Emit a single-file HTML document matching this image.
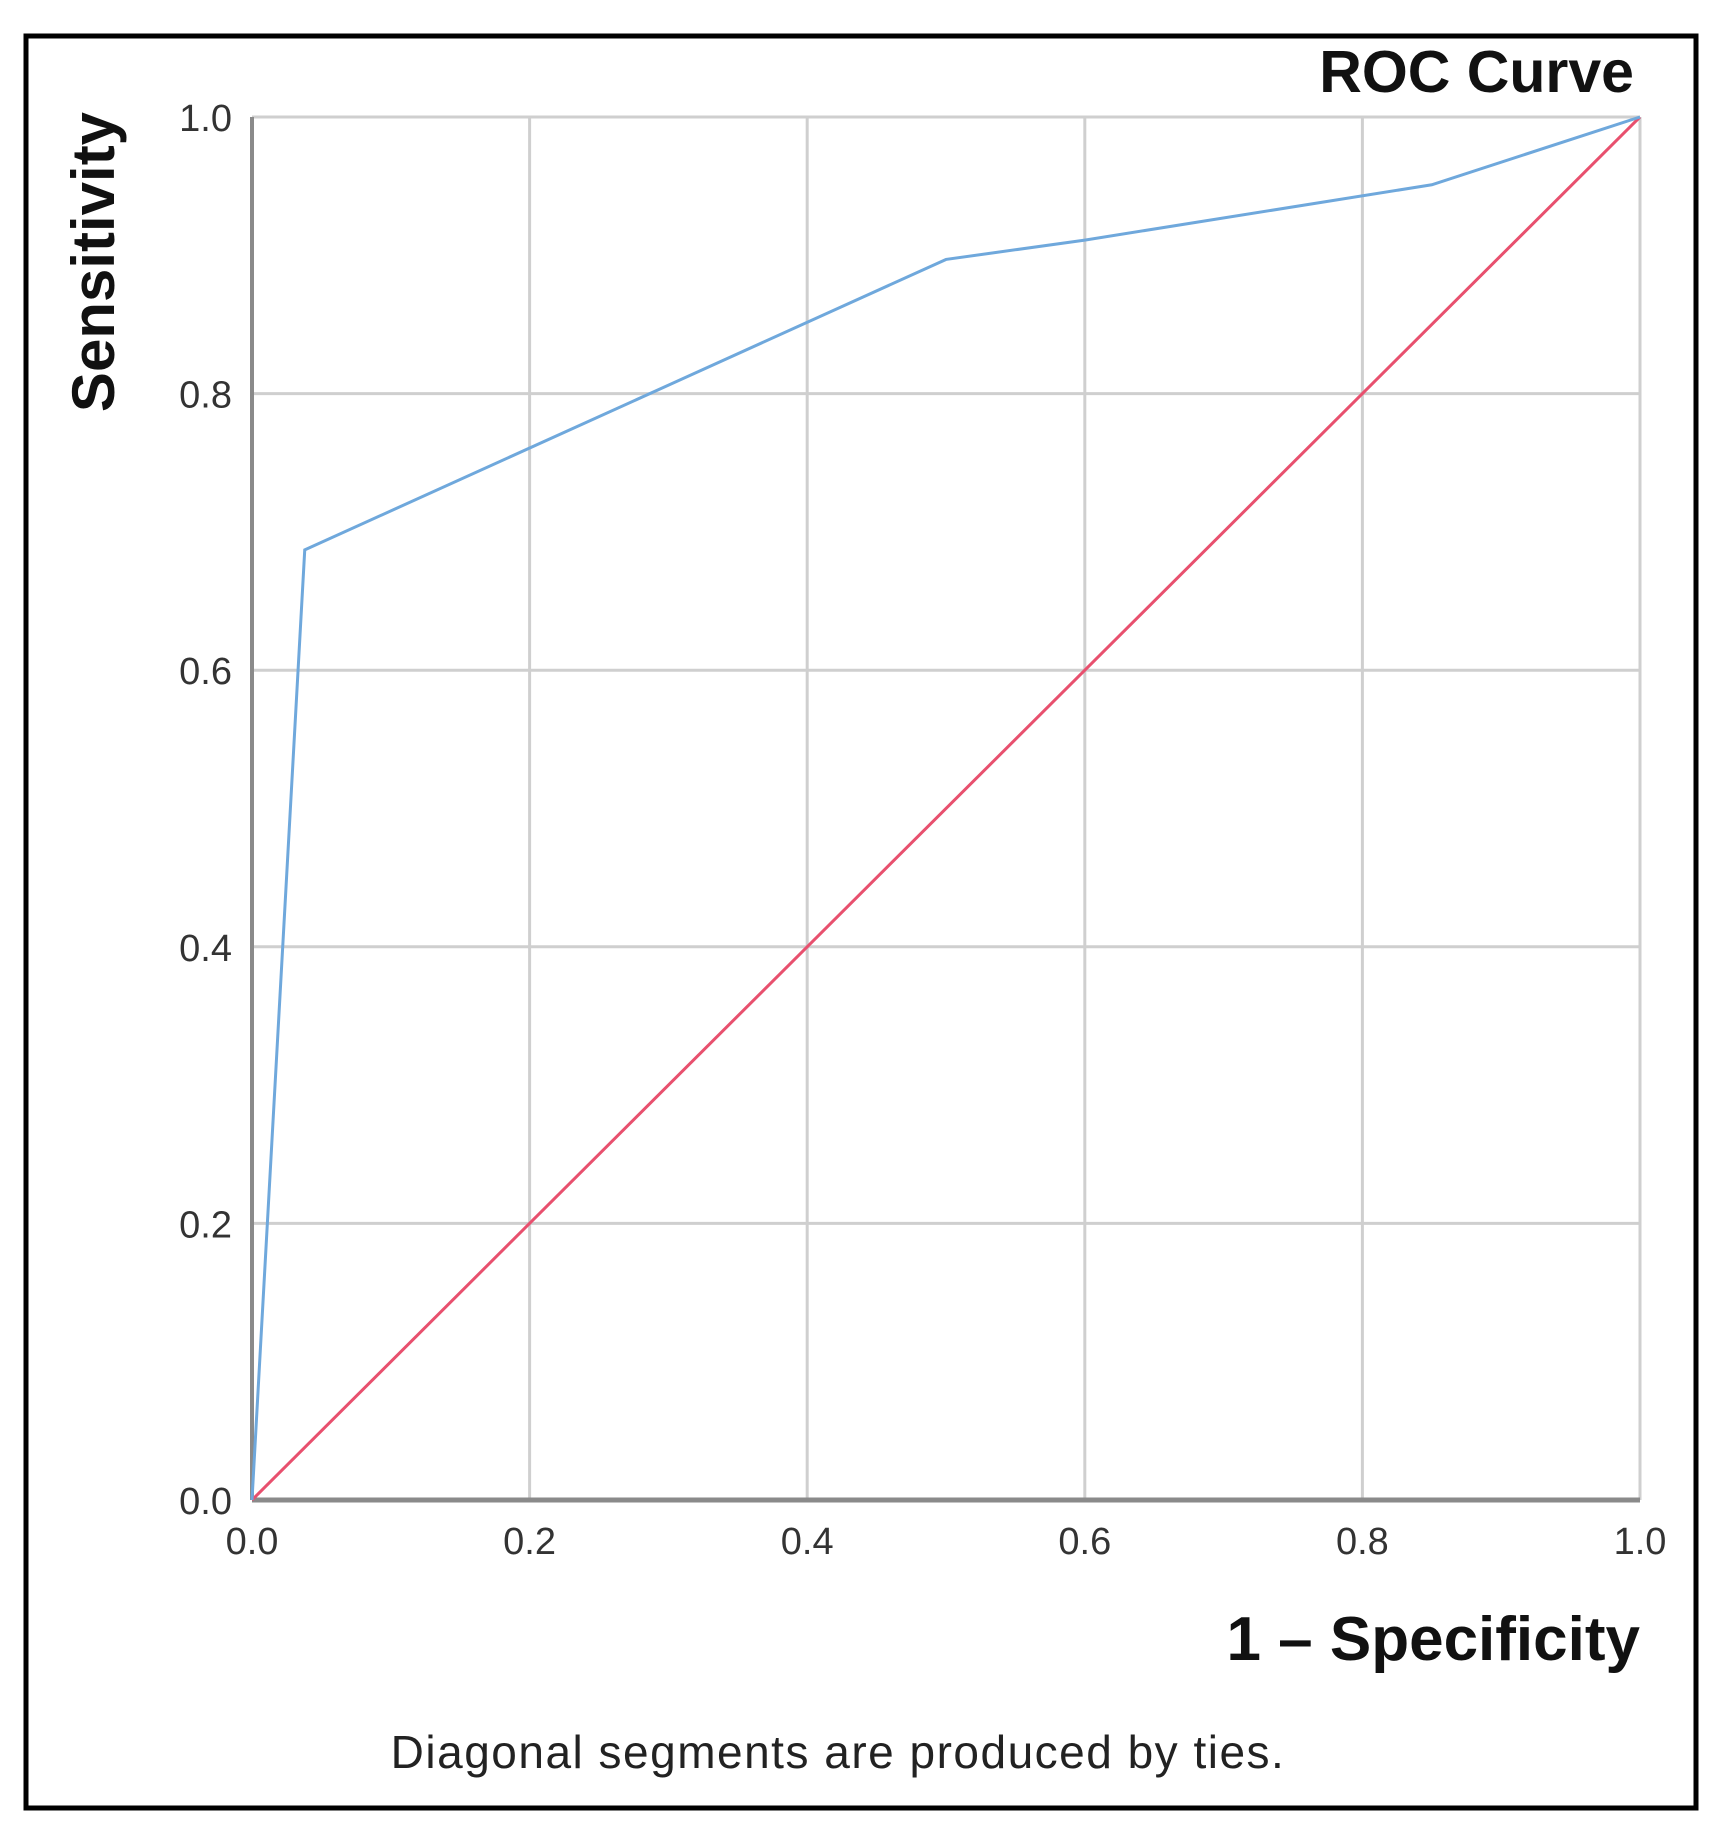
<!DOCTYPE html>
<html><head><meta charset="utf-8"><style>
html,body{margin:0;padding:0;background:#fff;}
svg{display:block;font-family:"Liberation Sans","DejaVu Sans",sans-serif;}
</style></head><body>
<svg id="chart" width="1720" height="1832" viewBox="0 0 1720 1832" xmlns="http://www.w3.org/2000/svg">
<rect x="26" y="36" width="1670" height="1772" fill="#fff" stroke="#000" stroke-width="5"/>
<text x="1634" y="92" text-anchor="end" font-size="59" font-weight="bold" fill="#111">ROC Curve</text>
<text transform="translate(114,262) rotate(-90)" text-anchor="middle" font-size="60" font-weight="bold" fill="#111">Sensitivity</text>
<text x="1640" y="1660" text-anchor="end" font-size="62" font-weight="bold" fill="#111">1 – Specificity</text>
<text x="838" y="1768" text-anchor="middle" font-size="46" letter-spacing="1.5" fill="#222">Diagonal segments are produced by ties.</text>
<g id="grid"></g><g id="axes"></g><g id="series"></g>
</svg>
<script>
const xTicks = [0, 0.2, 0.4, 0.6, 0.8, 1.0];
const yTicks = [0, 0.2, 0.4, 0.6, 0.8, 1.0];
const tickLabels = ["0.0", "0.2", "0.4", "0.6", "0.8", "1.0"];
const rocFpr = [0, 0.038, 0.5, 0.6, 0.85, 1];
const rocTpr = [0, 0.687, 0.897, 0.911, 0.951, 1];
const refFpr = [0, 1];
const refTpr = [0, 1];

const NS = "http://www.w3.org/2000/svg";
const X0 = 252, X1 = 1640, Y0 = 1500, Y1 = 117;
function sx(v){ return X0 + v * (X1 - X0); }
function sy(v){ return Y0 - v * (Y0 - Y1); }
function mk(tag, attrs, parent){
  const e = document.createElementNS(NS, tag);
  for (const k in attrs) e.setAttribute(k, attrs[k]);
  parent.appendChild(e);
  return e;
}
const grid = document.getElementById('grid');
const axes = document.getElementById('axes');
const series = document.getElementById('series');

xTicks.forEach((t, i) => {
  const l = mk('line', {x1: sx(t), x2: sx(t), y1: sy(1), y2: sy(0), stroke: '#cfcfcf', 'stroke-width': 3}, grid);
  
  
  const tx = mk('text', {x: sx(t), y: 1554, 'text-anchor': 'middle', 'font-size': 38, fill: '#333'}, axes);
  tx.textContent = tickLabels[i];
  
  
});
yTicks.forEach((t, i) => {
  const l = mk('line', {x1: sx(0), x2: sx(1), y1: sy(t), y2: sy(t), stroke: '#cfcfcf', 'stroke-width': 3}, grid);
  
  
  const tx = mk('text', {x: 232, y: sy(t) + 14, 'text-anchor': 'end', 'font-size': 38, fill: '#333'}, axes);
  tx.textContent = tickLabels[i];
  
  
});
const ya = mk('line', {x1: sx(0), x2: sx(0), y1: sy(1), y2: sy(0), stroke: '#8a8a8a', 'stroke-width': 4}, axes);


const xa = mk('line', {x1: sx(0), x2: sx(1), y1: sy(0), y2: sy(0), stroke: '#8a8a8a', 'stroke-width': 5}, axes);



function pts(xs, ys){ return xs.map((x, i) => sx(x) + ',' + sy(ys[i])).join(' '); }
const ref = mk('polyline', {points: pts(refFpr, refTpr), fill: 'none', stroke: '#e8506e', 'stroke-width': 3}, series);


const roc = mk('polyline', {points: pts(rocFpr, rocTpr), fill: 'none', stroke: '#6fa8dc', 'stroke-width': 3}, series);


</script>
</body></html>
